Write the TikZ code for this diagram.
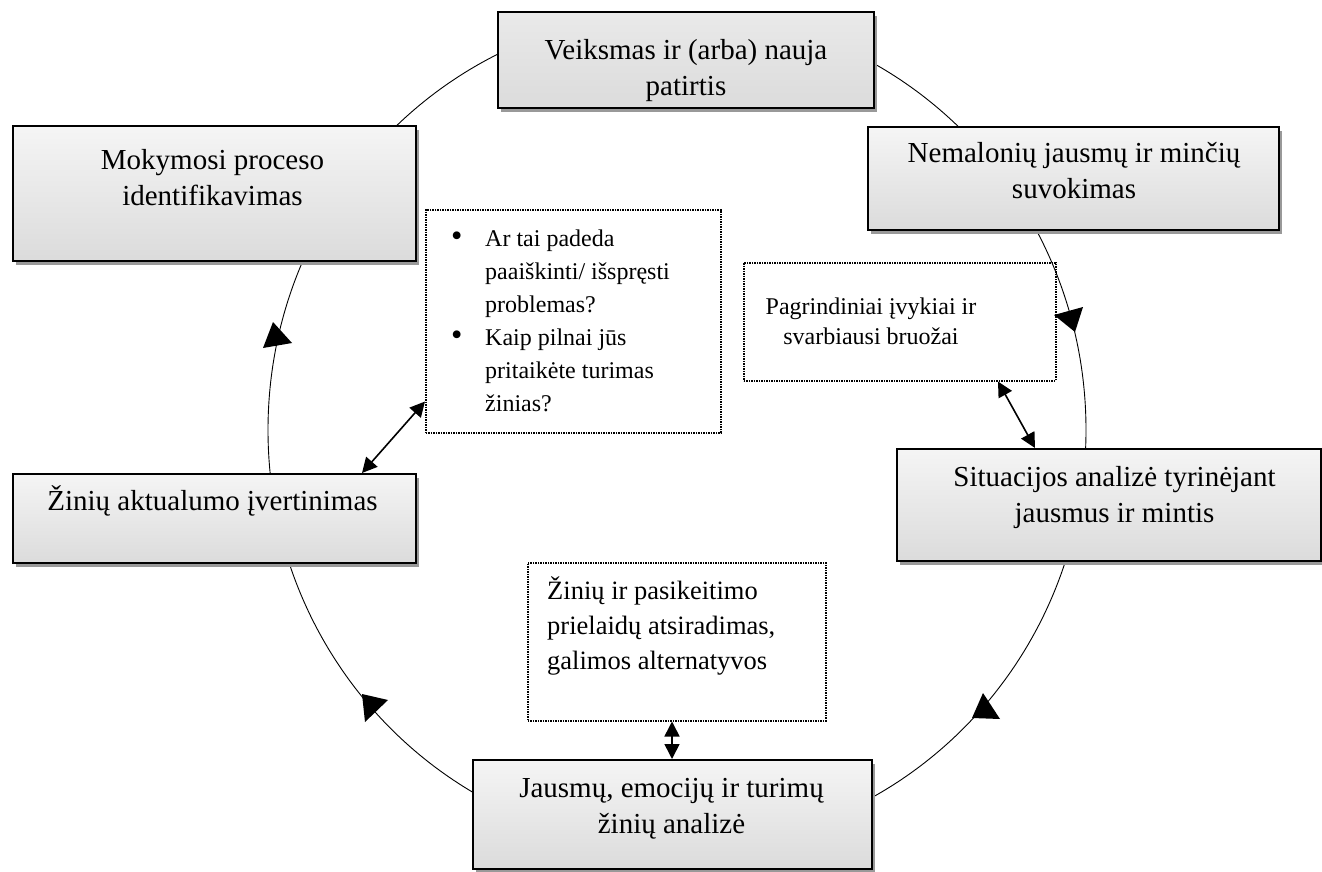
\documentclass[tikz,border=0pt]{standalone}
\usepackage{fontspec}
\setmainfont{Liberation Serif}
\usetikzlibrary{arrows.meta,shadows,calc}
\newcommand{\notebullet}{\makebox[35pt][l]{\hspace*{1pt}\raisebox{0.5pt}{\scalebox{1.35}{\textbullet}}}}
\newcommand{\noteindent}{\hspace*{35pt}}
\begin{document}
\begin{tikzpicture}[x=1pt,y=-1pt,
  cyc/.style={line width=0.9pt, draw=black},
  cyctip/.style={fill=black},
  procbox/.style={draw=black, line width=1.8pt, top color=gray!8, bottom color=gray!28,
    drop shadow={shadow xshift=3.5pt, shadow yshift=-4pt, fill=black!40, opacity=1},
    inner sep=0pt, anchor=north west},
  darkbox/.style={procbox, top color=gray!17, bottom color=gray!28},
  dotbox/.style={draw=black, line width=1.5pt, dash pattern=on 1.4pt off 1.1pt,
    inner sep=0pt, anchor=north west},
  boxtext/.style={font=\fontsize{29}{36}\selectfont, align=center, inner sep=0pt},
  notetext/.style={font=\fontsize{24}{33}\selectfont, inner sep=0pt},
  link/.style={line width=1.6pt, {Triangle[length=15pt,width=15pt]}-{Triangle[length=15pt,width=15pt]}}
]
\useasboundingbox (0,0) rectangle (1322,872);

% the cycle
\draw[cyc] (677,430) ellipse [x radius=409, y radius=418];

% stage boxes
\node[darkbox, minimum width=376, minimum height=96] (T) at (497,11) {};
\node[procbox, minimum width=411, minimum height=103] (N) at (867,126) {};
\node[procbox, minimum width=403, minimum height=135] (M) at (12,125) {};
\node[procbox, minimum width=424, minimum height=112] (S) at (896,448) {};
\node[procbox, minimum width=403, minimum height=89] (Z) at (12,473) {};
\node[procbox, minimum width=399, minimum height=109] (J) at (472,759) {};

% arrowheads on the cycle
\fill[cyctip] (1054,315) -- (1083,307) -- (1075,332) -- cycle;
\fill[cyctip] (983,693) -- (1000,719) -- (972,718) -- cycle;
\fill[cyctip] (362,694) -- (388,700) -- (365,722) -- cycle;
\fill[cyctip] (273,322) -- (292,343) -- (263,348) -- cycle;

% note boxes
\node[dotbox, minimum width=295, minimum height=223] (A) at (425,209) {};
\node[dotbox, minimum width=312, minimum height=118] (P) at (743,262) {};
\node[dotbox, minimum width=298, minimum height=158] (Q) at (527,562) {};

% links between notes and stages
\draw[link] ($(Z.north west)+(350,0)$) -- ($(A.south west)+(0,-32)$);
\draw[link] ($(P.south west)+(255,0)$) -- ($(S.north west)+(139,0)$);
\draw[link] ($(Q.south west)+(145,0)$) -- ($(J.north west)+(200,0)$);

% stage texts
\node[boxtext] (Tt) at (686,71) {Veiksmas ir (arba) nauja\\patirtis};
\node[boxtext] (Nt) at (1074,171) {Nemalonių jausmų ir minčių\\suvokimas};
\node[boxtext] (Mt) at (212.5,178) {Mokymosi proceso\\identifikavimas};
\node[boxtext] (St) at (1114.5,498) {Situacijos analizė tyrinėjant\\jausmus ir mintis};
\node[boxtext, anchor=base] (Zt) at (212.5,510) {Žinių aktualumo įvertinimas};
\node[boxtext] (Jt) at (671.5,809) {Jausmų, emocijų ir turimų\\žinių analizė};

% note texts
\node[notetext, align=left, anchor=north west] (At) at (450,230)
  {\notebullet Ar tai padeda\\
   \noteindent paaiškinti/ išspręsti\\
   \noteindent problemas?\\
   \notebullet Kaip pilnai jūs\\
   \noteindent pritaikėte turimas\\
   \noteindent žinias?};
\node[notetext, font=\fontsize{24}{30}\selectfont, align=center] (Pt) at (871,321)
  {Pagrindiniai įvykiai ir\\svarbiausi bruožai};
\node[notetext, font=\fontsize{26.5}{35}\selectfont, align=left, anchor=west] (Qt) at (547,626)
  {Žinių ir pasikeitimo\\prielaidų atsiradimas,\\galimos alternatyvos};
\end{tikzpicture}
\end{document}
